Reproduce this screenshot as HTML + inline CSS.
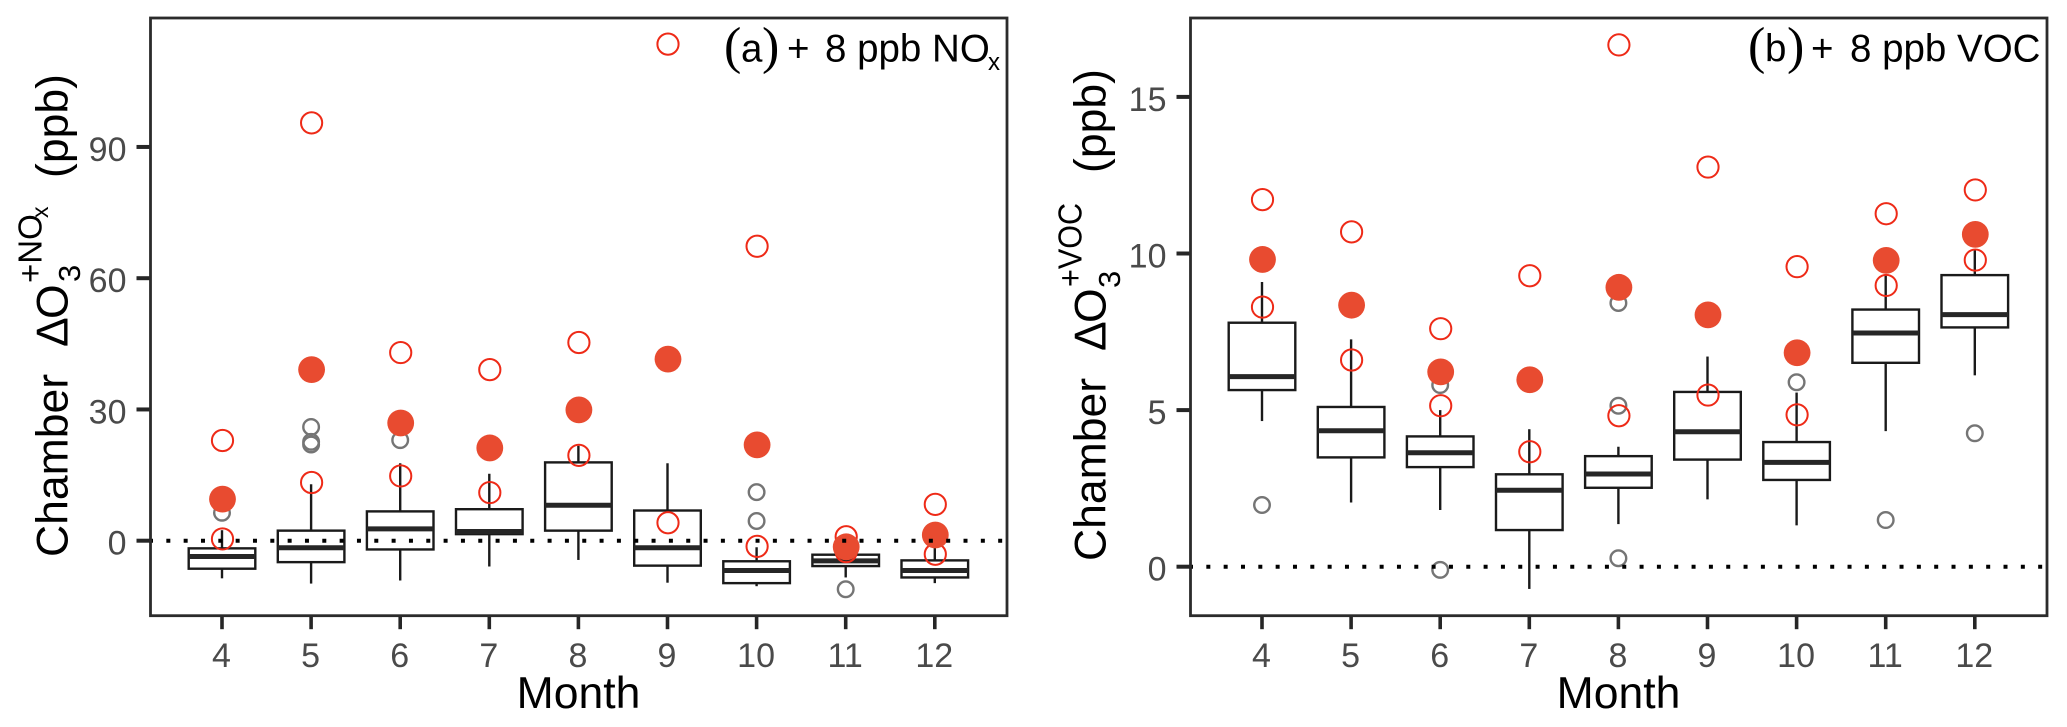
<!DOCTYPE html>
<html lang="en">
<head>
<meta charset="utf-8">
<title>Chamber ozone response by month</title>
<style>
  html, body { margin: 0; padding: 0; background: #ffffff; }
  svg { display: block; font-family: "Liberation Sans", Arial, sans-serif; }
  .tick-label { font-size: 34px; fill: #4a4a4a; }
  .axis-title { font-size: 44.5px; fill: #000000; }
  .note { font-size: 38.5px; fill: #000000; }
  .paren { font-family: "Liberation Serif", serif; font-size: 52px; fill: #000000; }
</style>
</head>
<body>
<svg id="chart" xmlns="http://www.w3.org/2000/svg" width="2067" height="727" viewBox="0 0 2067 727">
  <rect x="0" y="0" width="2067" height="727" fill="#ffffff"/>
  <g id="panel-a"></g>
  <g id="panel-b"></g>

  <g>
    <text class="axis-title" transform="translate(67.7,557) rotate(-90)">Chamber</text>
    <text class="axis-title" transform="translate(67.7,347) rotate(-90)">Δ</text>
    <text class="axis-title" transform="translate(67.7,319) rotate(-90)">O</text>
    <text font-size="31" transform="translate(80,282) rotate(-90)">3</text>
    <text font-size="33" transform="translate(41.7,283) rotate(-90)">+NO</text>
    <text font-size="23" transform="translate(48,218) rotate(-90)">x</text>
    <text class="axis-title" transform="translate(67.7,178) rotate(-90)">(ppb)</text>
  </g>
  <g>
    <text class="axis-title" transform="translate(1105.7,561) rotate(-90)">Chamber</text>
    <text class="axis-title" transform="translate(1105.7,351) rotate(-90)">Δ</text>
    <text class="axis-title" transform="translate(1105.7,323) rotate(-90)">O</text>
    <text font-size="31" transform="translate(1120,288) rotate(-90)">3</text>
    <text font-size="33" textLength="84" lengthAdjust="spacingAndGlyphs" transform="translate(1081.7,287) rotate(-90)">+VOC</text>
    <text class="axis-title" transform="translate(1105.7,173) rotate(-90)">(ppb)</text>
  </g>

  <text class="axis-title" x="578.5" y="708" text-anchor="middle">Month</text>
  <text class="axis-title" x="1618.5" y="708" text-anchor="middle">Month</text>

  <g>
    <text class="paren" x="724" y="63">(</text>
    <text class="note" x="741" y="61.7">a</text>
    <text class="paren" x="762" y="63">)</text>
    <text class="note" x="787" y="61.7">+</text>
    <text class="note" x="825" y="61.7">8 ppb NO</text>
    <text font-size="24" x="988" y="70">x</text>
  </g>
  <g>
    <text class="paren" x="1748" y="63">(</text>
    <text class="note" x="1765" y="61.7">b</text>
    <text class="paren" x="1787" y="63">)</text>
    <text class="note" x="1811" y="61.7">+</text>
    <text class="note" x="1850" y="61.7">8 ppb VOC</text>
  </g>
</svg>

<script>
// Shared categories
const months = [4, 5, 6, 7, 8, 9, 10, 11, 12];

// Panel (a) + 8 ppb NOx
const aTicks = [0, 30, 60, 90];
const aQ1 = [-6.4, -4.9, -2.0, 1.5, 2.3, -5.7, -9.7, -5.8, -8.4];
const aMedian = [-3.6, -1.6, 2.7, 2.1, 8.1, -1.6, -6.8, -4.6, -6.8];
const aQ3 = [-1.75, 2.3, 6.7, 7.2, 17.9, 6.9, -4.7, -3.2, -4.5];
const aWhiskerLow = [-8.6, -9.8, -9.1, -5.9, -4.4, -9.6, -10.4, -8.4, -9.7];
const aWhiskerHigh = [2.4, 12.9, 17.7, 15.3, 21.7, 17.7, -1.5, -2.0, -1.4];
const aGrayOutliers = [[6.4], [26, 22.6, 22], [23], [], [], [], [11.1, 4.5], [-11.1], []];
const aOpenUpper = [22.9, 95.5, 43, 39.1, 45.3, 113.5, 67.3, 0.9, 8.3];
const aOpenLower = [0.4, 13.3, 14.8, 11, 19.5, 4.1, -1.3, -2.5, -3.1];
const aFilled = [9.5, 39.1, 26.9, 21.2, 29.9, 41.5, 21.9, -1.4, 1.3];

// Panel (b) + 8 ppb VOC
const bTicks = [0, 5, 10, 15];
const bQ1 = [5.64, 3.49, 3.18, 1.17, 2.52, 3.42, 2.77, 6.51, 7.64];
const bMedian = [6.07, 4.34, 3.64, 2.44, 2.96, 4.31, 3.33, 7.46, 8.05];
const bQ3 = [7.79, 5.1, 4.16, 2.95, 3.53, 5.58, 3.98, 8.21, 9.31];
const bWhiskerLow = [4.65, 2.05, 1.81, -0.71, 1.36, 2.15, 1.32, 4.33, 6.11];
const bWhiskerHigh = [9.09, 7.26, 5.0, 4.39, 3.83, 6.71, 5.56, 9.31, 10.1];
const bGrayOutliers = [[1.97], [], [5.8, -0.1], [], [8.42, 5.14, 0.27], [], [5.89], [1.49], [4.26]];
const bOpenUpper = [11.72, 10.69, 7.6, 9.29, 16.66, 12.76, 9.58, 11.27, 12.03];
const bOpenLower = [8.29, 6.6, 5.14, 3.67, 4.82, 5.48, 4.85, 8.98, 9.79];
const bFilled = [9.81, 8.35, 6.22, 5.97, 8.92, 8.04, 6.83, 9.78, 10.61];

const SVG_NS = 'http://www.w3.org/2000/svg';

// Axis functions
function xA(m) { return 222 + (m - 4) * 89.1; }
function yA(v) { return 540.7 - v * 4.375; }
function xB(m) { return 1262 + (m - 4) * 89.1; }
function yB(v) { return 566.7 - v * 31.32; }

function node(tag, parent) {
  const el = document.createElementNS(SVG_NS, tag);
  parent.appendChild(el);
  return el;
}

function drawSegment(parent, x1, y1, x2, y2, color, width) {
  const el = node('line', parent);
  el.setAttribute('x1', x1);
  el.setAttribute('y1', y1);
  el.setAttribute('x2', x2);
  el.setAttribute('y2', y2);
  el.setAttribute('stroke', color);
  el.setAttribute('stroke-width', width);
  return el;
}

function drawCircle(parent, cx, cy, r, fill, stroke, width) {
  const el = node('circle', parent);
  el.setAttribute('cx', cx);
  el.setAttribute('cy', cy);
  el.setAttribute('r', r);
  el.setAttribute('fill', fill);
  el.setAttribute('stroke', stroke);
  el.setAttribute('stroke-width', width);
  return el;
}

function drawPanel(p) {
  const root = document.getElementById(p.id);
  const left = p.left, right = p.right, top = 18, bottom = 615.7;

  // y ticks
  p.ticks.forEach(function (t) {
    const mark = drawSegment(root, left - 14, p.y(t), left, p.y(t), '#262626', 4);
    
    
    const label = node('text', root);
    label.setAttribute('class', 'tick-label');
    label.setAttribute('x', left - 24);
    label.setAttribute('y', p.y(t) + 14);
    label.setAttribute('text-anchor', 'end');
    label.textContent = t;
    
    
  });

  // x ticks
  months.forEach(function (m) {
    const mark = drawSegment(root, p.x(m), bottom, p.x(m), bottom + 13.5, '#262626', 3.6);
    
    
    const label = node('text', root);
    label.setAttribute('class', 'tick-label');
    label.setAttribute('x', p.x(m) - 0.5);
    label.setAttribute('y', 667);
    label.setAttribute('text-anchor', 'middle');
    label.textContent = m;
    
    
  });

  // boxes, whiskers, gray outliers
  months.forEach(function (m, i) {
    const group = node('g', root);
    
    
    const cx = p.x(m);

    const upper = drawSegment(group, cx, p.y(p.q3[i]), cx, p.y(p.high[i]), '#1a1a1a', 2.4);
    
    

    const lower = drawSegment(group, cx, p.y(p.q1[i]), cx, p.y(p.low[i]), '#1a1a1a', 2.4);
    
    

    const box = node('rect', group);
    box.setAttribute('x', cx - 33.3);
    box.setAttribute('y', p.y(p.q3[i]));
    box.setAttribute('width', 66.6);
    box.setAttribute('height', p.y(p.q1[i]) - p.y(p.q3[i]));
    box.setAttribute('fill', '#ffffff');
    box.setAttribute('stroke', '#1a1a1a');
    box.setAttribute('stroke-width', 2.4);
    
    

    const med = drawSegment(group, cx - 33.3, p.y(p.median[i]), cx + 33.3, p.y(p.median[i]), '#262626', 5);
    
    

    p.gray[i].forEach(function (v) {
      const dot = drawCircle(group, cx, p.y(v), 7.8, 'none', '#757575', 2.4);
      
      
    });
  });

  // open red markers
  months.forEach(function (m, i) {
    const a = drawCircle(root, p.x(m) + 0.5, p.y(p.openUpper[i]), 10.6, 'none', '#ee2a17', 2);
    
    
    const b = drawCircle(root, p.x(m) + 0.5, p.y(p.openLower[i]), 10.6, 'none', '#ee2a17', 2);
    
    
  });

  // filled red markers
  months.forEach(function (m, i) {
    const f = drawCircle(root, p.x(m) + 0.5, p.y(p.filled[i]), 13.4, '#e84b30', 'none', 0);
    
    
  });

  // dotted zero reference line
  const zero = drawSegment(root, left - 1.5, p.y(0), right - 1, p.y(0), '#000000', 4);
  zero.setAttribute('stroke-dasharray', '4 13.33');
  
  

  // panel border
  const frame = node('rect', root);
  frame.setAttribute('x', left);
  frame.setAttribute('y', top);
  frame.setAttribute('width', right - left);
  frame.setAttribute('height', bottom - top);
  frame.setAttribute('fill', 'none');
  frame.setAttribute('stroke', '#2b2b2b');
  frame.setAttribute('stroke-width', 2.8);
  
  
}

drawPanel({
  id: 'panel-a', left: 150.5, right: 1007, x: xA, y: yA, ticks: aTicks,
  q1: aQ1, median: aMedian, q3: aQ3, low: aWhiskerLow, high: aWhiskerHigh,
  gray: aGrayOutliers, openUpper: aOpenUpper, openLower: aOpenLower, filled: aFilled
});
drawPanel({
  id: 'panel-b', left: 1190.5, right: 2047, x: xB, y: yB, ticks: bTicks,
  q1: bQ1, median: bMedian, q3: bQ3, low: bWhiskerLow, high: bWhiskerHigh,
  gray: bGrayOutliers, openUpper: bOpenUpper, openLower: bOpenLower, filled: bFilled
});
</script>
</body>
</html>
